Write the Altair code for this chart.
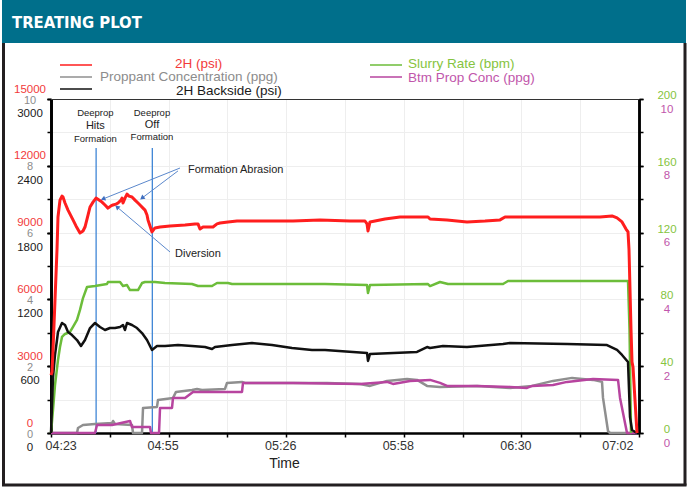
import json
import altair as alt
import pandas as pd

FONT = "Liberation Sans"

# ---------------- data (time = minutes after 04:23) ----------------
red_t = [0, 0.27, 0.54, 1.08, 1.62, 1.89, 2.43, 2.97, 3.24, 3.79, 4.60, 5.95, 6.76, 7.84, 8.65, 9.19,
         10.01, 10.55, 11.36, 12.17, 12.98, 13.79, 14.60, 15.41, 16.22, 16.77, 17.58, 18.12, 18.93,
         19.20, 19.47, 20.01, 20.55, 21.09, 21.90, 22.72, 23.53, 24.07, 24.88, 25.42, 25.96, 26.23,
         26.77, 27.31, 27.85, 28.12, 29.48, 32.18, 36.24, 38.94, 39.75, 40.29, 41.10, 43.81, 44.89,
         45.70, 47.86, 50.30, 56.52, 65.44, 72.74, 80.85, 84.91, 85.45, 85.72, 86.26, 90.32, 94.37,
         101.95, 102.49, 107.09, 112.49, 117.36, 121.42, 122.77, 130.34, 139.54, 148.46, 151.70,
         153.06, 154.41, 155.49, 156.03, 156.30, 156.84, 157.11, 157.38, 157.92, 158.46]
red_v = [2600, 2740, 3730, 5970, 8220, 9700, 10460, 10640, 10600, 10330, 10010, 9570, 9300, 8980,
         9070, 9250, 9790, 10150, 10370, 10550, 10460, 10370, 10240, 10100, 10200, 10240, 10280,
         10330, 10460, 10550, 10330, 10550, 10730, 10640, 10600, 10460, 10330, 10240, 10100, 10010,
         9790, 9570, 9300, 9030, 9160, 9210, 9250, 9300, 9340, 9390, 9390, 9160, 9250, 9250, 9390,
         9430, 9480, 9520, 9520, 9520, 9570, 9520, 9520, 9390, 9070, 9480, 9610, 9700, 9700, 9610,
         9570, 9480, 9520, 9570, 9700, 9700, 9700, 9700, 9750, 9660, 9480, 9160, 9030, 8220, 4630,
         3190, 2960, 1480, 0]

green_t = [0, 0.54, 1.08, 1.89, 2.43, 2.97, 3.79, 5.14, 5.95, 7.03, 7.84, 8.65, 9.74, 11.90, 15.14,
           15.41, 18.66, 19.47, 20.55, 21.36, 23.53, 24.61, 25.42, 28.12, 30.83, 38.13, 39.75, 43.54,
           44.89, 47.86, 48.95, 74.09, 85.45, 85.72, 86.26, 101.95, 102.49, 105.19, 107.36, 122.23,
           123.58, 156.03, 156.44, 156.84]
green_v = [0, 13.8, 28.7, 43.7, 51.5, 57.5, 59.3, 60.5, 63.5, 67.7, 73.7, 80.8, 87.4, 88.0, 89.2,
           90.4, 90.4, 88.0, 88.6, 85.6, 85.6, 89.8, 90.4, 90.4, 89.8, 89.2, 88.0, 88.0, 89.8, 89.8,
           89.2, 89.2, 88.6, 83.8, 88.6, 89.2, 88.0, 90.4, 89.2, 89.2, 91.0, 91.0, 61.7, 0]

black_t = [0, 0.54, 1.08, 1.62, 1.89, 2.97, 3.79, 4.60, 5.68, 7.03, 8.11, 9.19, 10.55, 11.90, 13.25,
           14.60, 15.95, 17.31, 18.66, 19.47, 20.01, 20.55, 21.90, 23.26, 24.61, 25.96, 27.31, 28.66,
           30.83, 34.34, 38.13, 41.64, 43.54, 44.35, 48.95, 54.35, 59.76, 65.17, 70.58, 74.09, 85.45,
           85.72, 86.26, 98.97, 101.68, 102.49, 106.00, 112.49, 122.23, 124.12, 139.54, 150.35,
           153.06, 154.41, 156.03, 156.57, 157.11, 158.46]
black_v = [0, 500, 701, 835, 907, 988, 970, 907, 880, 835, 781, 835, 943, 988, 952, 925, 943, 943,
           952, 970, 925, 988, 970, 943, 898, 835, 746, 781, 781, 790, 781, 772, 754, 772, 790, 808,
           790, 763, 746, 746, 719, 647, 710, 728, 772, 763, 781, 772, 799, 808, 799, 790, 746, 701,
           638, 144, 27, 0]

gray_t = [0, 7.03, 7.30, 8.65, 11.90, 16.50, 16.77, 17.31, 21.90, 22.17, 24.61, 24.88, 28.66, 28.93,
          32.99, 33.80, 38.13, 39.48, 40.83, 47.05, 47.59, 51.65, 52.46, 65.44, 74.64, 83.56, 86.26,
          90.86, 96.27, 98.97, 101.68, 105.19, 115.20, 124.12, 130.07, 135.75, 140.89, 146.57,
          149.00, 149.27, 150.62, 151.16, 157.0]
gray_v = [0, 0, 0.15, 0.24, 0.27, 0.30, 0.36, 0.27, 0.24, 0, 0, 0.75, 0.78, 0.99, 1.05, 1.23, 1.29,
          1.32, 1.29, 1.32, 1.50, 1.53, 1.50, 1.50, 1.50, 1.47, 1.41, 1.56, 1.62, 1.59, 1.41, 1.38,
          1.41, 1.35, 1.41, 1.56, 1.65, 1.59, 1.53, 1.05, 0.06, 0, 0]

mag_t = [0, 11.90, 12.44, 16.50, 21.36, 21.90, 23.53, 26.77, 27.04, 29.21, 29.48, 32.72, 32.99,
         36.24, 38.40, 47.05, 51.65, 51.92, 65.44, 83.56, 90.86, 92.48, 97.08, 102.49, 105.19,
         107.09, 115.20, 124.12, 128.72, 130.07, 135.75, 139.54, 146.57, 153.33, 153.87, 155.76,
         158.46]
mag_v = [0, 0, 0.24, 0.24, 0.36, 0.18, 0.18, 0.18, 0, 0, 0.75, 0.75, 1.05, 1.05, 1.23, 1.23, 1.23,
         1.50, 1.50, 1.47, 1.53, 1.47, 1.56, 1.59, 1.50, 1.41, 1.41, 1.38, 1.35, 1.41, 1.44, 1.53,
         1.62, 1.59, 1.05, 0, 0]

# events (time, psi on the 2H scale)
event_t = [12.2, 27.4]
event_top = [12800, 12800]
event_text_t = [12.0, 27.3]
deeprop_v = [14370, 14370]
hits_off_text = ["Hits", "Off"]
hits_off_v = [13790, 13830]
formation_v = [13200, 13290]

# callouts
abrasion_t, abrasion_v = [37.05], [11810]
diversion_t, diversion_v = [33.53], [8040]
arrow_t0 = [34.88, 34.34, 32.18]
arrow_v0 = [11900, 11770, 8130]
arrow_t1 = [14.06, 24.61, 17.85]
arrow_v1 = [10510, 10550, 10150]
arrow_angle = [248, 233, 310]

# axes
x_domain = [0, 159]
x_step = 15.9
x_labels = ["04:23", "04:55", "05:26", "05:58", "06:30", "07:02"]
red_ticks = [0, 3000, 6000, 9000, 12000, 15000]
gray_ticks = [0, 1, 2, 3, 4, 5, 6, 7, 8, 9, 10]
black_ticks = [0, 600, 1200, 1800, 2400, 3000]
green_ticks = [0, 20, 40, 60, 80, 100, 120, 140, 160, 180, 200]
mag_ticks = [0, 2, 4, 6, 8, 10]

RED, GRAY, BLACK, GREEN, MAG, BLUE = "#ff1e1e", "#8f8f8f", "#111111", "#6cbd3a", "#b7449f", "#3f86d6"
RED_L, GRAY_L, BLACK_L, GREEN_L, MAG_L = "#f23a3a", "#8c8c8c", "#1a1a1a", "#86c440", "#c156ab"

x_vals = [round(i * x_step, 2) for i in range(11)]
full_labels = []
for i, lab in enumerate(x_labels):
    full_labels.append(lab)
    if i < len(x_labels) - 1:
        full_labels.append("")

x_axis = alt.Axis(values=x_vals, labelExpr=json.dumps(full_labels) + f"[round(datum.value / {x_step})]",
                  labelFlush=True, labelOffset=-6, labelOverlap=False, labelFont=FONT,
                  labelFontSize=12.5, labelColor="#333333", labelPadding=2,
                  title="Time", titleX=233, titleY=30, titleBaseline="middle", titleFont=FONT,
                  titleFontSize=14, titleFontWeight="normal", titleColor="#222222",
                  tickSize=4, tickColor="#000000", tickWidth=1.5,
                  domainColor="#000000", domainWidth=2.5,
                  grid=True, gridColor="#eeeeee", gridWidth=1)

X = alt.X("t:Q", scale=alt.Scale(domain=x_domain, nice=False, zero=False), axis=x_axis)


def yaxis(orient, values, color, size, offset, pad, grid=False, expr=None):
    kw = dict(orient=orient, values=values, labelColor=color, labelFontSize=size, labelOffset=offset,
              labelAlign="center", labelPadding=pad, labelFont=FONT, labelOverlap=False,
              tickSize=4, tickColor="#000000", tickWidth=1.5, domainColor="#000000",
              domainWidth=2.5, grid=grid, title=None, format="d")
    if grid:
        kw.update(gridColor="#eeeeee", gridWidth=1)
    if expr:
        kw["labelExpr"] = expr
    return alt.Axis(**kw)


def series(t, v, color, width, domain, axis):
    df = pd.DataFrame({"t": t, "v": v})
    return alt.Chart(df).mark_line(color=color, strokeWidth=width, strokeJoin="round").encode(
        x=X, y=alt.Y("v:Q", scale=alt.Scale(domain=domain, nice=False, zero=False), axis=axis))


PSI = alt.Scale(domain=[0, 15000], nice=False, zero=False)

layers = []

# decorations: banner + frame
deco = pd.DataFrame({"k": [0]})


def d_rule(x, y, color, width, x2=None, y2=None):
    enc = dict(x=alt.value(x), y=alt.value(y))
    if x2 is not None:
        enc["x2"] = alt.value(x2)
    if y2 is not None:
        enc["y2"] = alt.value(y2)
    return alt.Chart(deco).mark_rule(color=color, strokeWidth=width).encode(**enc)


def d_text(txt, x, y, size, color, weight="normal", font=FONT):
    return alt.Chart(deco).mark_text(text=txt, align="left", baseline="middle", fontSize=size,
                                     color=color, fontWeight=weight, font=font).encode(
        x=alt.value(x), y=alt.value(y))


layers.append(alt.Chart(deco).mark_rect(color="#006f8b").encode(
    x=alt.value(-49), x2=alt.value(635), y=alt.value(-99), y2=alt.value(-56)))
layers.append(d_text("TREATING PLOT", -39, -76, 16.5, "#ffffff", weight="bold",
                     font="Liberation Sans Narrow, DejaVu Sans Condensed, Roboto"))
layers.append(d_rule(-47.5, -56, "#231f20", 3, y2=386.5))
layers.append(d_rule(634, -56, "#231f20", 3, y2=386.5))
layers.append(d_rule(-49, 386, "#231f20", 3, x2=635.5))
layers.append(d_rule(0, 0.5, "#333333", 1.2, x2=588))

# legend
layers += [
    d_rule(9, -34, RED, 1.5, x2=41), d_text("2H (psi)", 124, -35.5, 13.5, RED_L),
    d_rule(9, -22, GRAY, 1.5, x2=41), d_text("Proppant Concentration (ppg)", 49, -22, 13.5, GRAY_L),
    d_rule(9, -10, BLACK, 1.5, x2=41), d_text("2H Backside (psi)", 125, -8, 13.5, BLACK_L),
    d_rule(319, -34, GREEN, 1.5, x2=351), d_text("Slurry Rate (bpm)", 357, -35.5, 13.5, GREEN_L),
    d_rule(319, -22, MAG, 1.5, x2=351), d_text("Btm Prop Conc (ppg)", 357, -21.5, 13.5, MAG_L),
]

# event lines
ev = pd.DataFrame({"t": event_t, "top": event_top})
layers.append(alt.Chart(ev).mark_rule(color=BLUE, strokeWidth=1.3).encode(
    x=X, y=alt.Y("top:Q", scale=PSI, axis=None), y2=alt.datum(0)))

# series
layers.append(series(gray_t, gray_v, GRAY, 2.5, [0, 10],
                     yaxis("left", gray_ticks, GRAY_L, 11, 1, 17.5, grid=True,
                           expr="datum.value % 2 == 0 ? datum.label : ''")))
layers.append(series(mag_t, mag_v, MAG, 2.5, [0, 10],
                     yaxis("right", mag_ticks, MAG_L, 11.5, 10, 23.5)))
layers.append(series(green_t, green_v, GREEN, 2.5, [0, 200],
                     yaxis("right", green_ticks, GREEN_L, 11.5, -3.5, 23.5,
                           expr="datum.value % 40 == 0 ? datum.label : ''")))
layers.append(series(black_t, black_v, BLACK, 2.5, [0, 3000],
                     yaxis("left", black_ticks, BLACK_L, 11.5, 14.5, 17.5)))
layers.append(series(red_t, red_v, RED, 3, [0, 15000],
                     yaxis("left", red_ticks, RED_L, 11.5, -10, 17.5)))

# event texts
def ev_text(t, v, txt, size):
    df = pd.DataFrame({"t": t, "v": v, "txt": txt})
    return alt.Chart(df).mark_text(fontSize=size, font=FONT, color="#222222", baseline="middle",
                                   align="center").encode(
        x=X, y=alt.Y("v:Q", scale=PSI, axis=None), text="txt:N")


layers.append(ev_text(event_text_t, deeprop_v, ["Deeprop", "Deeprop"], 9.5))
layers.append(ev_text(event_text_t, hits_off_v, hits_off_text, 11))
layers.append(ev_text(event_text_t, formation_v, ["Formation", "Formation"], 9.5))

# callout texts
ab = pd.DataFrame({"t": abrasion_t, "v": abrasion_v, "txt": ["Formation Abrasion"]})
layers.append(alt.Chart(ab).mark_text(fontSize=11, font=FONT, color="#222222", align="left",
                                      baseline="middle").encode(
    x=X, y=alt.Y("v:Q", scale=PSI, axis=None), text="txt:N"))
dv = pd.DataFrame({"t": diversion_t, "v": diversion_v, "txt": ["Diversion"]})
layers.append(alt.Chart(dv).mark_text(fontSize=11, font=FONT, color="#222222", align="left",
                                      baseline="middle").encode(
    x=X, y=alt.Y("v:Q", scale=PSI, axis=None), text="txt:N"))

# arrows
ar = pd.DataFrame({"t": arrow_t0, "v": arrow_v0, "t1": arrow_t1, "v1": arrow_v1, "ang": arrow_angle})
layers.append(alt.Chart(ar).mark_rule(color="#5b88cc", strokeWidth=1).encode(
    x=X, x2="t1:Q", y=alt.Y("v:Q", scale=PSI, axis=None), y2="v1:Q"))
layers.append(alt.Chart(ar).mark_point(shape="triangle-up", filled=True, size=28, color="#3f6fc0",
                                       opacity=1).encode(
    x=alt.X("t1:Q", scale=alt.Scale(domain=x_domain, nice=False, zero=False), axis=x_axis),
    y=alt.Y("v1:Q", scale=PSI, axis=None),
    angle=alt.Angle("ang:Q", scale=None)))

chart = alt.layer(*layers).resolve_scale(y="independent").properties(
    width=588, height=334,
    autosize=alt.AutoSizeParams(type="none"),
    padding={"left": 51, "top": 99, "right": 49, "bottom": 55},
    background="#ffffff",
).configure_view(stroke=None)

chart.save("out.html", embed_options={"renderer": "svg", "actions": False})
